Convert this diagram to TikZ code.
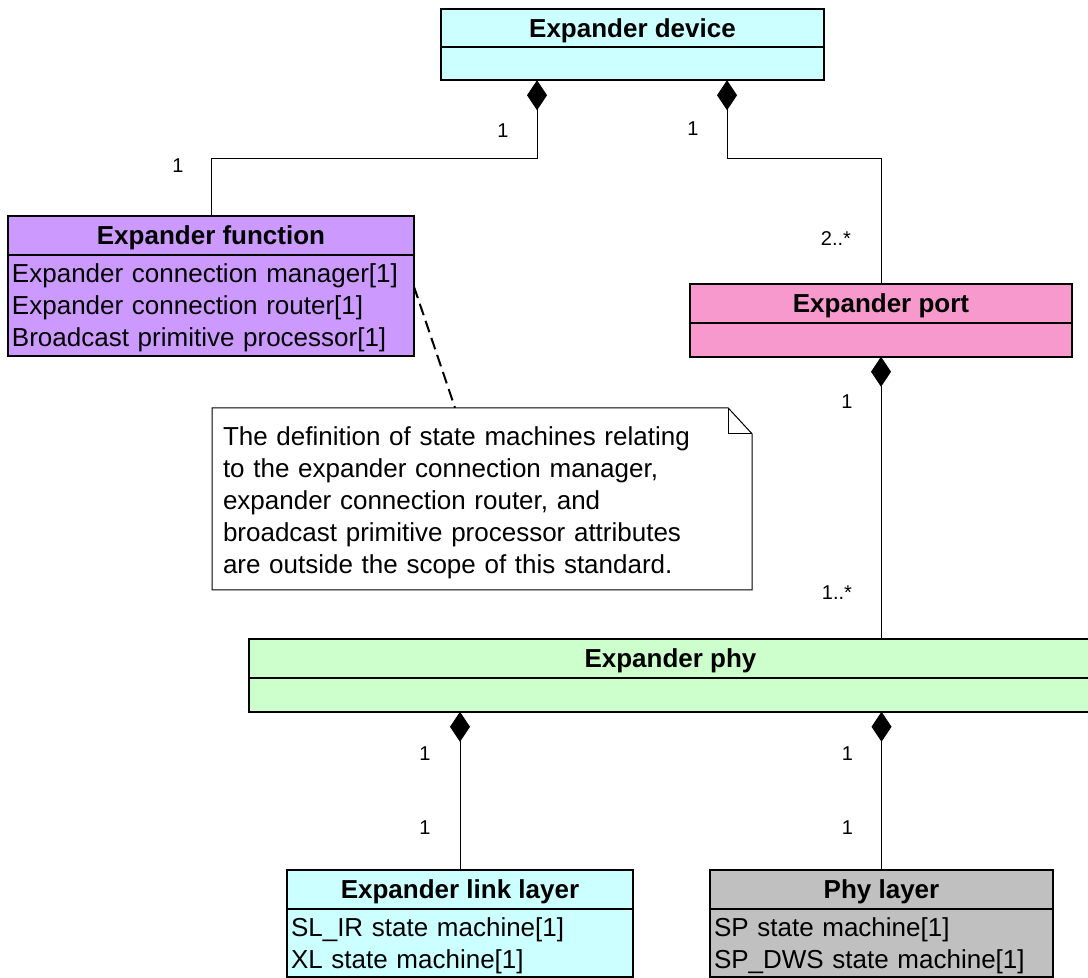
\documentclass[tikz,border=0pt]{standalone}
\usepackage{fontspec}
\setmainfont{Liberation Sans}
\usetikzlibrary{positioning, arrows.meta}

\definecolor{devcyan}{RGB}{204,255,255}
\definecolor{fncpurple}{RGB}{204,153,255}
\definecolor{portpink}{RGB}{247,153,204}
\definecolor{phygreen}{RGB}{204,255,204}
\definecolor{phlgray}{RGB}{192,192,192}

% taller first line, moves attribute text down a little
\newcommand{\tstrut}[1][24.5pt]{\rule{0pt}{#1}}

\begin{document}
\begin{tikzpicture}[
    head/.style={rectangle, draw, line width=1.6pt, minimum height=38.5pt,
                 inner sep=0pt, outer sep=0pt, text height=18.6pt, text depth=0pt,
                 font=\fontsize{26}{32}\selectfont\bfseries},
    body/.style={rectangle, draw, line width=1.6pt, inner xsep=4pt, inner ysep=0pt,
                 outer sep=0pt, align=left, font=\fontsize{26}{32}\selectfont},
    comp/.style={{Diamond[length=30pt, width=20pt]}-, line width=1pt},
    mult/.style={inner sep=0pt, font=\fontsize{20}{24}\selectfont},
    notebox/.style={rectangle, inner xsep=11pt, inner ysep=0pt, outer sep=0pt,
                    align=left, font=\fontsize{26}{32}\selectfont},
    noteline/.style={line width=2pt, dash pattern=on 12pt off 6pt}
]
  \useasboundingbox (0,0) rectangle (1088pt,-978pt);

  % Top: expander device
  \node[head, fill=devcyan, minimum width=383pt] (devh) at (632.5pt,-28pt) {Expander device};
  \node[body, fill=devcyan, text width=375pt, minimum height=33pt, below=0pt of devh] (devb) {};

  % Middle: function and port
  \node[head, fill=fncpurple, minimum width=406pt, below=136pt of devb, xshift=-421.5pt] (fnch)
    {Expander function};
  \node[body, fill=fncpurple, text width=398pt, minimum height=101pt, below=0pt of fnch] (fncb)
    {\tstrut Expander connection manager[1]\\Expander connection router[1]\\Broadcast primitive processor[1]};

  \node[head, fill=portpink, minimum width=382pt, below=204pt of devb, xshift=248.5pt] (porth)
    {Expander port};
  \node[body, fill=portpink, text width=374pt, minimum height=34pt, below=0pt of porth] (portb) {};

  % Note
  \node[notebox, text width=518pt, minimum height=182pt, below=52pt of fncb, xshift=271pt] (note)
    {\tstrut[27pt]The definition of state machines relating\\to the expander connection manager,\\expander connection router, and\\broadcast primitive processor attributes\\are outside the scope of this standard.};
  \draw[line width=1pt] (note.north west) -- ([xshift=-24pt]note.north east)
    -- ([yshift=-26pt]note.north east) -- (note.south east) -- (note.south west) -- cycle;
  \draw[line width=1pt] ([xshift=-24pt]note.north east) |- ([yshift=-26pt]note.north east);

  % Expander phy
  \node[head, fill=phygreen, minimum width=843pt, below=282.5pt of portb, xshift=-210.5pt] (phyh)
    {Expander phy};
  \node[body, fill=phygreen, text width=835pt, minimum height=34pt, below=0pt of phyh] (phyb) {};

  % Bottom: layers
  \node[head, fill=devcyan, minimum width=346pt, below=158.5pt of phyb, xshift=-210.5pt] (linkh)
    {Expander link layer};
  \node[body, fill=devcyan, text width=338pt, minimum height=68pt, below=0pt of linkh] (linkb)
    {\tstrut SL\_IR state machine[1]\\XL state machine[1]};

  \node[head, fill=phlgray, minimum width=343pt, right=77pt of linkh] (phlh) {Phy layer};
  \node[body, fill=phlgray, text width=335pt, minimum height=68pt, below=0pt of phlh] (phlb)
    {\tstrut SP state machine[1]\\SP\_DWS state machine[1]};

  % Compositions
  \coordinate (d1) at ([xshift=96pt]devb.south west);
  \coordinate (d2) at ([xshift=286pt]devb.south west);
  \coordinate (p1) at (portb.south |- phyh.north);
  \draw[comp] (d1) -- ++(0,-78pt) -| (fnch.north);
  \draw[comp] (d2) -- ++(0,-78pt) -| (porth.north);
  \draw[comp] (portb.south) -- (p1);
  \draw[comp] (phyb.south -| linkh.north) -- (linkh.north);
  \draw[comp] (phyb.south -| phlh.north) -- (phlh.north);
  \draw[noteline] ([yshift=-32pt]fncb.north east) -- ([xshift=-27pt]note.north);

  % Multiplicities
  \node[mult] (m1) at ([shift={(-34pt,-50pt)}]d1) {1};
  \node[mult] (m2) at ([shift={(-33pt,51pt)}]fnch.north) {1};
  \node[mult] (m3) at ([shift={(-34pt,-48pt)}]d2) {1};
  \node[mult] (m4) at ([shift={(-45pt,46pt)}]porth.north) {2..*};
  \node[mult] (m5) at ([shift={(-34pt,-45pt)}]portb.south) {1};
  \node[mult] (m6) at ([shift={(-44pt,47pt)}]p1) {1..*};
  \node[mult] (m7) at ([shift={(-35pt,-42pt)}]phyb.south -| linkh.north) {1};
  \node[mult] (m8) at ([shift={(-35pt,43pt)}]linkh.north) {1};
  \node[mult] (m9) at ([shift={(-34pt,-42pt)}]phyb.south -| phlh.north) {1};
  \node[mult] (m10) at ([shift={(-34pt,43pt)}]phlh.north) {1};
\end{tikzpicture}
\end{document}
